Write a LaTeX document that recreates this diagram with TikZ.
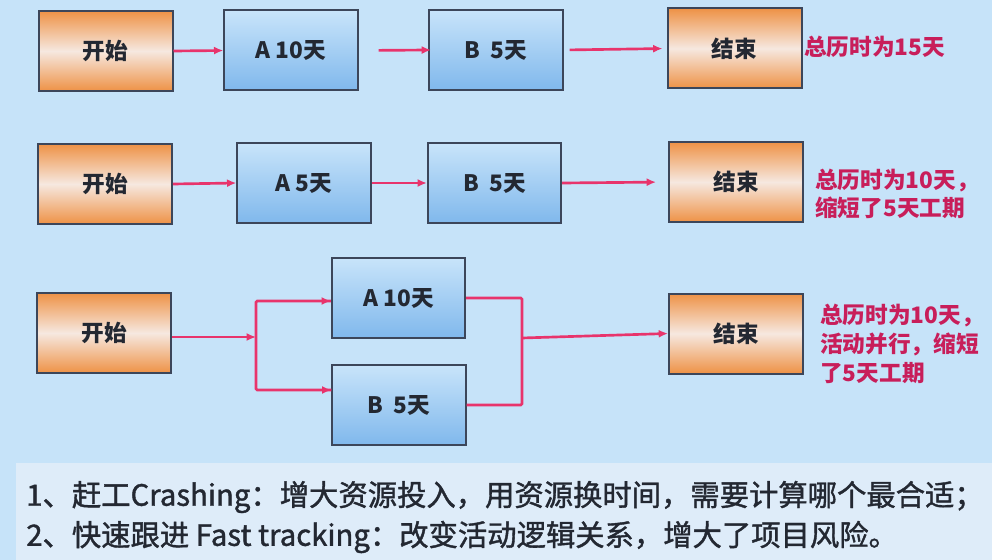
\documentclass[tikz,border=0pt]{standalone}
\usepackage{fontspec}
\setmainfont{Noto Sans CJK SC}
\newfontfamily\cjk{Noto Sans CJK SC}
\newfontfamily\cjkmed[FakeBold=1.3]{Noto Sans CJK SC}
\usetikzlibrary{arrows.meta}
\definecolor{bgblue}{RGB}{198,227,249}
\definecolor{bandblue}{RGB}{222,236,249}
\definecolor{arrred}{RGB}{232,52,108}
\definecolor{txtred}{RGB}{200,30,90}
\definecolor{orgdark}{RGB}{238,146,70}
\definecolor{orglight}{RGB}{246,232,224}
\definecolor{blutop}{RGB}{200,228,250}
\definecolor{blubot}{RGB}{128,184,236}
\definecolor{edge}{RGB}{60,70,90}
\definecolor{lbl}{RGB}{35,40,50}
\tikzset{
  obox/.style={draw=edge, line width=1.5pt, minimum width=100.5pt, minimum height=60pt,
    top color=orgdark, bottom color=orgdark, middle color=orglight, inner sep=0pt,
    font=\cjk\bfseries\fontsize{17pt}{20pt}\selectfont, text=lbl},
  bbox/.style={draw=edge, line width=1.5pt, minimum width=100pt, minimum height=60pt,
    top color=blutop, bottom color=blubot, inner sep=0pt,
    font=\cjk\bfseries\fontsize{17pt}{20pt}\selectfont, text=lbl},
  arr/.style={draw=arrred, line width=2pt, -{Latex[length=7pt,width=6pt]}},
  conn/.style={draw=arrred, line width=2pt, rounded corners=1pt},
  note/.style={anchor=west, align=left, text=txtred, inner sep=0pt,
    font=\cjk\bfseries\fontsize{17pt}{21.5pt}\selectfont},
  bottomtxt/.style={anchor=west, inner sep=0pt, text=lbl,
    font=\cjkmed\fontsize{22pt}{26pt}\selectfont}
}
\begin{document}
\begin{tikzpicture}[x=0.75pt,y=-0.75pt]
\useasboundingbox (0,0) rectangle (992,560);
\fill[bgblue] (0,0) rectangle (992,560);
\fill[bandblue] (16,463) rectangle (992,560);
% row 1
\node[obox] (S1) at (105.5,51) {开始};
\node[bbox] (A1) at (291,50.5) {A 10天};
\node[bbox] (B1) at (496,50) {B\ \ 5天};
\node[obox] (E1) at (734.5,48.5) {结束};
\node[note] (T1) at (804,47) {总历时为15天};
\draw[arr] (S1.east) -- (A1.west);
\draw[arr, shorten <=20*0.75pt, shorten >=-2pt] (A1.east) -- (B1.west);
\draw[arr, shorten <=6*0.75pt, shorten >=4*0.75pt] (B1.east) -- (E1.west);
% row 2
\node[obox] (S2) at (105,184) {开始};
\node[bbox] (A2) at (304,183) {A 5天};
\node[bbox] (B2) at (494.5,183) {B\ \ 5天};
\node[obox] (E2) at (736,182) {结束};
\node[note] (T2) at (815,194) {总历时为10天，\\缩短了5天工期};
\draw[arr] (S2.east) -- (A2.west);
\draw[arr] (A2.east) -- (B2.west);
\draw[arr, shorten >=12*0.75pt] (B2.east) -- (E2.west);
% row 3
\node[obox] (S3) at (104,333) {开始};
\node[bbox] (A3) at (398.5,298) {A 10天};
\node[bbox] (B3) at (399,405) {B\ \ 5天};
\node[obox] (E3) at (736,333.5) {结束};
\node[note] (T3) at (820,344) {总历时为10天，\\活动并行，缩短\\了5天工期};
\coordinate (j) at (256,337);
\coordinate (jt) at (256,301);
\coordinate (jb) at (256,390);
\coordinate (k) at (522,338);
\draw[arr] (S3.east |- j) -- (j);
\draw[conn] (jt -| A3.west) -- (jt) -- (jb) -- (jb -| B3.west);
\draw[arr] (jt) -- (jt -| A3.west);
\draw[arr] (jb) -- (jb -| B3.west);
\draw[conn] (A3.east) -- (A3.east -| k) -- (B3.east -| k) -- (B3.east);
\draw[arr] (k) -- (E3.west);
% bottom text
\node[bottomtxt] (L1) at (26,497) {1、赶工Crashing：增大资源投入，用资源换时间，需要计算哪个最合适；};
\node[bottomtxt] (L2) at (26,537) {2、快速跟进 Fast tracking：改变活动逻辑关系，增大了项目风险。};
\end{tikzpicture}
\end{document}
